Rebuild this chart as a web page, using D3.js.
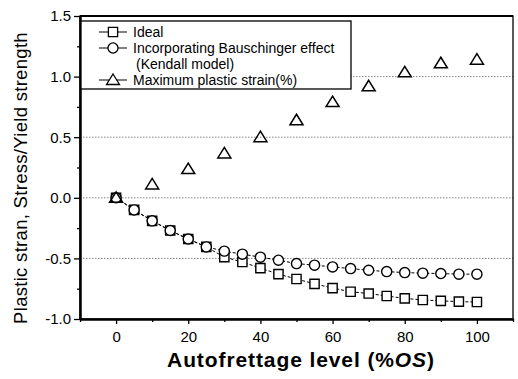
<!DOCTYPE html>
<html>
<head>
<meta charset="utf-8">
<script src="https://cdn.jsdelivr.net/npm/d3@7"></script>
<style>
  body { margin: 0; background: #fff; }
  text { font-family: "Liberation Sans", Arial, sans-serif; }
</style>
</head>
<body>
<div id="chart"></div>
<script>
const levels = [0, 5, 10, 15, 20, 25, 30, 35, 40, 45, 50, 55, 60, 65, 70, 75, 80, 85, 90, 95, 100];
const ideal = [0, -0.10, -0.19, -0.27, -0.34, -0.405, -0.49, -0.53, -0.58, -0.63, -0.67, -0.71, -0.745, -0.775, -0.79, -0.81, -0.83, -0.843, -0.85, -0.857, -0.86];
const bauschinger = [0, -0.10, -0.19, -0.27, -0.34, -0.405, -0.44, -0.465, -0.49, -0.515, -0.543, -0.556, -0.57, -0.584, -0.598, -0.609, -0.617, -0.622, -0.625, -0.63, -0.63];
const strainLevels = [0, 10, 20, 30, 40, 50, 60, 70, 80, 90, 100];
const plasticStrain = [0, 0.11, 0.237, 0.366, 0.50, 0.64, 0.79, 0.92, 1.035, 1.11, 1.14];
const xTicks = [0, 20, 40, 60, 80, 100];
const yTicks = [-1.0, -0.5, 0.0, 0.5, 1.0, 1.5];
const gridValues = [-0.5, 0.0, 0.5, 1.0];
const legendLabels = ["Ideal", "Incorporating Bauschinger effect", "(Kendall model)", "Maximum plastic strain(%)"];

const width = 518, height = 379;
const margin = { top: 16, right: 5, bottom: 60, left: 80 };

const svg = d3.select("#chart").append("svg")
  .attr("width", width)
  .attr("height", height);

const x = d3.scaleLinear().domain([-10, 110]).range([margin.left, width - margin.right]);
const y = d3.scaleLinear().domain([-1.0, 1.5]).range([height - margin.bottom, margin.top]);

// dotted grid
svg.append("g")
  .selectAll("line")
  .data(gridValues)
  .join("line")
  .attr("x1", margin.left).attr("x2", width - margin.right)
  .attr("y1", d => y(d)).attr("y2", d => y(d))
  .attr("stroke", "#666")
  .attr("stroke-width", 0.8)
  .attr("stroke-dasharray", "1.5,1.5");

// frame
svg.append("rect")
  .attr("x", margin.left).attr("y", margin.top)
  .attr("width", width - margin.left - margin.right)
  .attr("height", height - margin.top - margin.bottom)
  .attr("fill", "none")
  .attr("stroke", "#000")
  .attr("stroke-width", 1.3);
svg.append("line")
  .attr("x1", margin.left).attr("x2", width - margin.right)
  .attr("y1", margin.top).attr("y2", margin.top)
  .attr("stroke", "#000").attr("stroke-width", 2);

// axes
const xAxis = svg.append("g")
  .attr("transform", `translate(0,${height - margin.bottom})`)
  .call(d3.axisBottom(x).tickValues(xTicks).tickSize(5).tickSizeOuter(0).tickPadding(7));
const xMinor = svg.append("g")
  .attr("transform", `translate(0,${height - margin.bottom})`)
  .call(d3.axisBottom(x).tickValues([-10, 10, 30, 50, 70, 90, 110]).tickSize(3).tickSizeOuter(0).tickFormat(""));

const yAxis = svg.append("g")
  .attr("transform", `translate(${margin.left},0)`)
  .call(d3.axisLeft(y).tickValues(yTicks).tickFormat(d3.format(".1f")).tickSize(6).tickSizeOuter(0).tickPadding(3));
const yMinor = svg.append("g")
  .attr("transform", `translate(${margin.left},0)`)
  .call(d3.axisLeft(y).tickValues([-0.75, -0.25, 0.25, 0.75, 1.25]).tickSize(3).tickSizeOuter(0).tickFormat(""));

[xAxis, xMinor, yAxis, yMinor].forEach(g => {
  g.select(".domain").attr("stroke-width", 2);
  g.selectAll(".tick line").attr("stroke-width", 1.3);
});
xAxis.selectAll("text").attr("font-size", 15).attr("fill", "#000");
yAxis.selectAll("text").attr("font-size", 15).attr("fill", "#000").text(d => d3.format(".1f")(d).replace("−", "-"));

// axis titles
const xt = svg.append("text")
  .attr("x", 301).attr("y", 367)
  .attr("text-anchor", "middle")
  .attr("font-size", 21)
  .attr("letter-spacing", 0.9)
  .attr("font-weight", "bold");
xt.append("tspan").text("Autofrettage level (%");
xt.append("tspan").attr("font-style", "italic").text("OS");
xt.append("tspan").text(")");

svg.append("text")
  .attr("transform", `translate(27,178) rotate(-90)`)
  .attr("text-anchor", "middle")
  .attr("font-size", 18.5)
  .attr("letter-spacing", 0.3)
  .text("Plastic stran, Stress/Yield strength");

// series lines
const line = d3.line().x((d, i) => x(levels[i])).y(d => y(d));
svg.append("path").datum(ideal).attr("d", line)
  .attr("fill", "none").attr("stroke", "#000").attr("stroke-width", 1).attr("stroke-dasharray", "3,2");
svg.append("path").datum(bauschinger).attr("d", line)
  .attr("fill", "none").attr("stroke", "#000").attr("stroke-width", 1).attr("stroke-dasharray", "3,2");

const flatTriangle = {
  draw(ctx) {
    ctx.moveTo(0, -6);
    ctx.lineTo(6.5, 4.5);
    ctx.lineTo(-6.5, 4.5);
    ctx.closePath();
  }
};
const sq = d3.symbol().type(d3.symbolSquare).size(85);
const ci = d3.symbol().type(d3.symbolCircle).size(80);
const tr = d3.symbol().type(flatTriangle);

svg.append("g").selectAll("path")
  .data(ideal).join("path")
  .attr("d", sq)
  .attr("transform", (d, i) => `translate(${x(levels[i])},${y(d)})`)
  .attr("fill", "#fff").attr("stroke", "#000").attr("stroke-width", 1.4);

svg.append("g").selectAll("path")
  .data(bauschinger).join("path")
  .attr("d", ci)
  .attr("transform", (d, i) => `translate(${x(levels[i])},${y(d)})`)
  .attr("fill", "#fff").attr("stroke", "#000").attr("stroke-width", 1.4);

svg.append("g").selectAll("path")
  .data(plasticStrain).join("path")
  .attr("d", tr)
  .attr("transform", (d, i) => `translate(${x(strainLevels[i])},${y(d)})`)
  .attr("fill", "none").attr("stroke", "#000").attr("stroke-width", 1.5);

// legend
const legend = svg.append("g");
legend.append("rect")
  .attr("x", 81).attr("y", 21)
  .attr("width", 270).attr("height", 68)
  .attr("fill", "#fff").attr("stroke", "#000").attr("stroke-width", 1.3);

const legendRows = [
  { label: legendLabels[0], sym: sq, y: 32 },
  { label: legendLabels[1], sym: ci, y: 48 },
  { label: legendLabels[2], sym: null, y: 64 },
  { label: legendLabels[3], sym: tr, y: 80 }
];
legendRows.forEach(r => {
  if (r.sym) {
    legend.append("line")
      .attr("x1", 99).attr("x2", 127).attr("y1", r.y).attr("y2", r.y)
      .attr("stroke", "#000").attr("stroke-width", 1);
    legend.append("path")
      .attr("d", r.sym)
      .attr("transform", `translate(113,${r.y})`)
      .attr("fill", "#fff").attr("stroke", "#000").attr("stroke-width", 1.3);
  }
  legend.append("text")
    .attr("x", r.sym ? 133 : 136).attr("y", r.y)
    .attr("dy", "0.35em")
    .attr("font-size", 14)
    .text(r.label);
});
</script>
</body>
</html>
